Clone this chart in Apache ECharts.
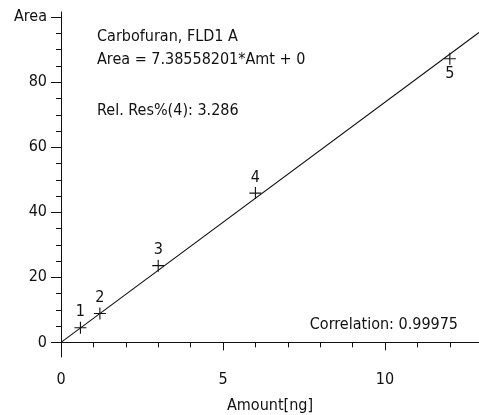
<!DOCTYPE html>
<html>
<head>
<meta charset="utf-8">
<script src="https://cdn.jsdelivr.net/npm/echarts@6/dist/echarts.min.js"></script>
<style>
  html, body { margin: 0; padding: 0; background: #fff; }
  #main { width: 479px; height: 415px; }
</style>
</head>
<body>
<div id="main"></div>
<script>
// calibration points (amount in ng, peak area)
var amounts = [0.6, 1.2, 3, 6, 12];
var areas = [4.5, 8.9, 23.6, 45.9, 87.2];
var levels = ['1', '2', '3', '4', '5'];
// regression line end points
var lineX = [0, 12.9];
var lineY = [0, 95.3];
// axis ticks
var yMajor = [0, 20, 40, 60, 80, 100];
var yMinor = [5, 10, 15, 25, 30, 35, 45, 50, 55, 65, 70, 75, 85, 90, 95];
var xMajor = [0, 5, 10];
var xMinor = [1, 2, 3, 4, 6, 7, 8, 9, 11, 12];
var notes = ['Carbofuran, FLD1 A', 'Area = 7.38558201*Amt + 0', 'Rel. Res%(4): 3.286'];
var corrText = 'Correlation: 0.99975';

var font = "'Liberation Sans Narrow', 'DejaVu Sans Condensed', sans-serif";
var ink = '#111';

var myChart = echarts.init(document.getElementById('main'));

var points = amounts.map(function (a, i) {
    return {
        value: [a, areas[i]],
        label: { position: i === 4 ? 'bottom' : 'top', formatter: levels[i] }
    };
});
var lineData = lineX.map(function (x, i) { return [x, lineY[i]]; });

var option = {
    backgroundColor: '#fff',
    animation: false,
    grid: { left: 61, right: 0, top: 12, bottom: 58, containLabel: false, outerBoundsMode: 'none' },
    xAxis: [
        {
            type: 'value', min: 0, max: 12.9,
            name: 'Amount[ng]', nameLocation: 'middle', nameGap: 41,
            nameTextStyle: { fontFamily: font, fontSize: 16, color: ink },
            axisLine: { show: true, lineStyle: { color: ink, width: 1 } },
            axisTick: { show: true, length: 8, customValues: xMajor, lineStyle: { color: ink } },
            axisLabel: { customValues: xMajor, margin: 15, fontFamily: font, fontSize: 16, color: ink },
            splitLine: { show: false }
        },
        {
            type: 'value', min: 0, max: 12.9, position: 'bottom',
            axisLine: { show: false },
            axisTick: { show: true, length: 5, customValues: xMinor, lineStyle: { color: ink } },
            axisLabel: { show: false },
            splitLine: { show: false }
        }
    ],
    yAxis: [
        {
            type: 'value', min: -4.5, max: 101.6,
            axisLine: { show: true, lineStyle: { color: ink, width: 1 } },
            axisTick: { show: true, length: 10, customValues: yMajor, lineStyle: { color: ink } },
            axisLabel: {
                customValues: yMajor, margin: 14, fontFamily: font, fontSize: 16, color: ink,
                formatter: function (v) { return v === 100 ? 'Area' : String(v); }
            },
            splitLine: { show: false }
        },
        {
            type: 'value', min: -4.5, max: 101.6, position: 'left',
            axisLine: { show: false },
            axisTick: { show: true, length: 5, customValues: yMinor, lineStyle: { color: ink } },
            axisLabel: { show: false },
            splitLine: { show: false }
        }
    ],
    series: [
        {
            type: 'line',
            data: lineData,
            symbol: 'none',
            lineStyle: { color: ink, width: 1.1 },
            silent: true
        },
        {
            type: 'scatter',
            data: points,
            symbol: 'path://M0,6 L12,6 M6,0 L6,12',
            symbolSize: 12,
            itemStyle: { color: 'none', borderColor: ink, borderWidth: 1.1, opacity: 1 },
            label: {
                show: true, distance: 0, lineHeight: 14,
                fontFamily: font, fontSize: 16, color: ink
            }
        }
    ],
    graphic: [
        { type: 'text', left: 97, top: 29, style: { text: notes[0], font: '16px ' + font, fill: ink } },
        { type: 'text', left: 97, top: 52, style: { text: notes[1], font: '16px ' + font, fill: ink } },
        { type: 'text', left: 97, top: 103, style: { text: notes[2], font: '16px ' + font, fill: ink } },
        { type: 'text', right: 21, top: 317, style: { text: corrText, font: '16px ' + font, fill: ink } }
    ]
};
myChart.setOption(option);
</script>
</body>
</html>
